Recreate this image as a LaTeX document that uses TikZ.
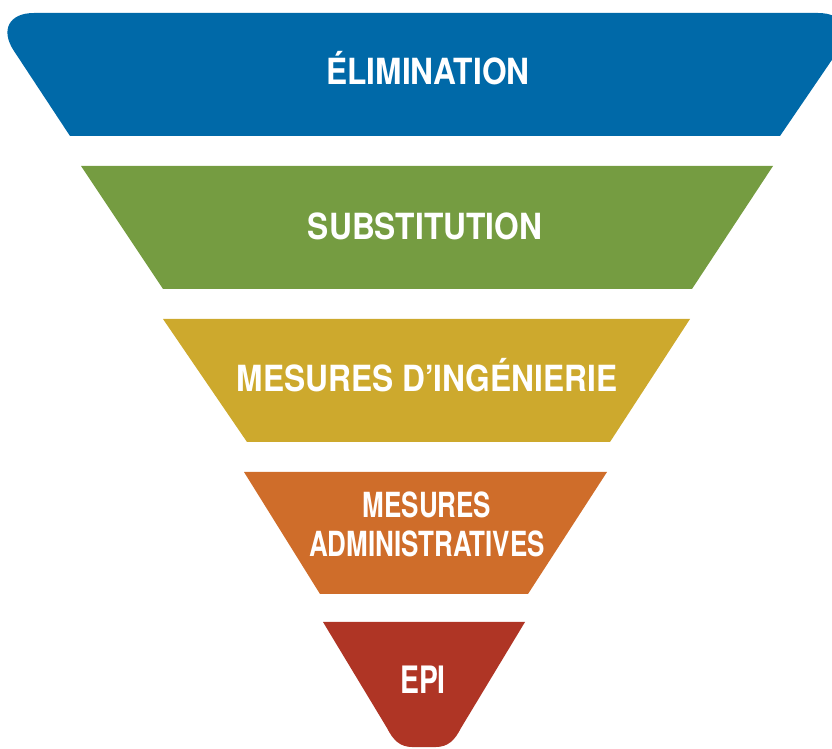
\documentclass[tikz,border=0pt]{standalone}
\usepackage{fontspec}
\newfontfamily\bandFont{TeX Gyre Heros}[FakeStretch=0.88]
\newfontfamily\narrowFont{TeX Gyre Heros}[FakeStretch=0.75]
\definecolor{elimBlue}{RGB}{0,105,168}
\definecolor{substGreen}{RGB}{117,156,65}
\definecolor{ingYellow}{RGB}{205,169,45}
\definecolor{adminOrange}{RGB}{207,109,42}
\definecolor{epiRed}{RGB}{175,53,37}
\begin{document}
\begin{tikzpicture}[x=0.02cm,y=-0.02cm,
  bandText/.style={text=white,align=center,inner sep=0pt,anchor=base,
    font=\bandFont\bfseries\fontsize{20.5}{21.6}\selectfont},
  narrowText/.style={bandText,
    font=\narrowFont\bfseries\fontsize{19.7}{22.2}\selectfont}]
  \useasboundingbox (0,0) rectangle (832,749);

  % bands, top to bottom
  \fill[elimBlue] (70,136) -- (14,51) .. controls (0,30) and (9,13) .. (34,13)
    -- (818,13) .. controls (843,13) and (852,30) .. (838,51) -- (780,136) -- cycle;
  \fill[substGreen] (81,166) -- (773,166) -- (692,289) -- (163,289) -- cycle;
  \fill[ingYellow] (163,319) -- (690,319) -- (610,442) -- (247,442) -- cycle;
  \fill[adminOrange] (244,472) -- (607,472) -- (528,594) -- (320,594) -- cycle;
  \fill[epiRed] (323,622) -- (525,622) -- (461,728) .. controls (455,740) and (448,747) .. (436,747)
    -- (412,747) .. controls (400,747) and (393,740) .. (387,728) -- cycle;

  \node[bandText] (elimination) at (428,85) {ÉLIMINATION};
  \node[bandText] (substitution) at (425,240) {SUBSTITUTION};
  \node[bandText] (ingenierie) at (427,392) {MESURES D’INGÉNIERIE};
  \node[narrowText] (administratives) at (427,557) {MESURES\\ADMINISTRATIVES};
  \node[narrowText,font=\narrowFont\bfseries\fontsize{21.5}{22}\selectfont] (epi) at (423,693) {EPI};
\end{tikzpicture}
\end{document}
